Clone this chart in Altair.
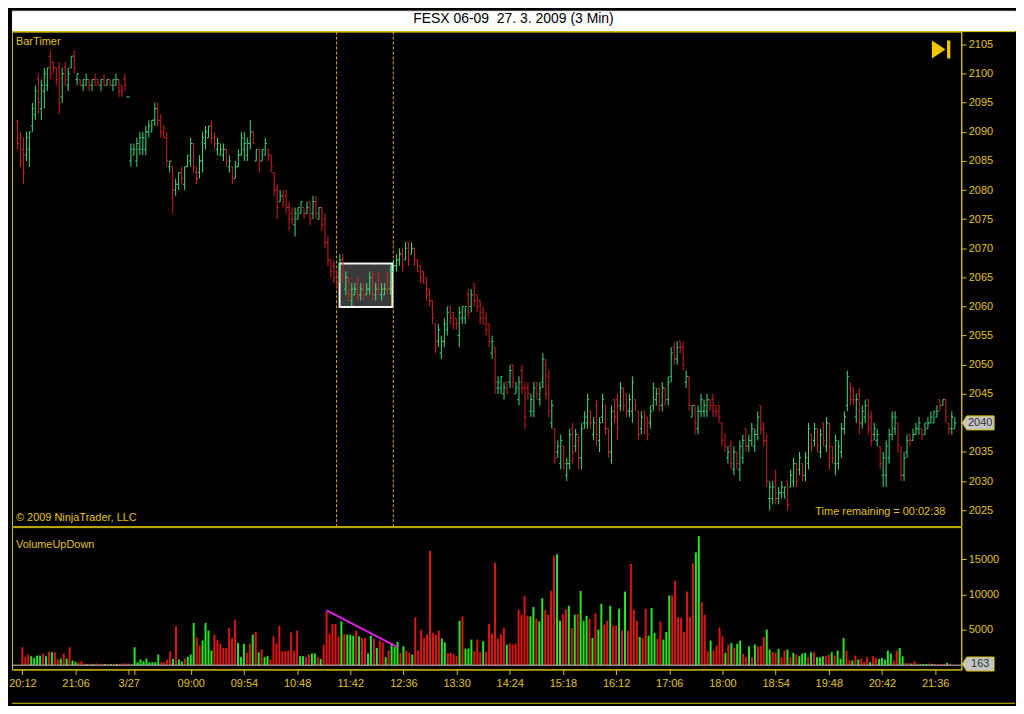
import altair as alt
import pandas as pd

TITLE = "FESX 06-09\u00a0 27. 3. 2009 (3 Min)"

HIGH = [
    2092, 2090, 2089, 2090, 2090, 2095, 2098, 2100, 2099, 2101,
    2101, 2104, 2102, 2101, 2102, 2101, 2102, 2101, 2103, 2104,
    2100, 2099, 2099, 2100, 2099, 2099, 2100, 2099, 2099, 2100,
    2099, 2099, 2099, 2100, 2099, 2098, 2100, 2096, 2088, 2088,
    2089, 2090, 2090, 2091, 2092, 2092, 2095, 2095, 2093, 2091,
    2090, 2085, 2084, 2082, 2083, 2084, 2084, 2086, 2089, 2088,
    2084, 2086, 2090, 2091, 2091, 2092, 2090, 2089, 2088, 2088,
    2087, 2086, 2084, 2085, 2087, 2090, 2090, 2089, 2092, 2090,
    2087, 2087, 2087, 2089, 2087, 2086, 2083, 2081, 2080, 2080,
    2080, 2078, 2077, 2077, 2077, 2078, 2077, 2078, 2078, 2079,
    2079, 2077, 2077, 2076, 2072, 2068, 2068, 2066, 2069, 2069,
    2066, 2065, 2064, 2064, 2065, 2064, 2064, 2064, 2066, 2066,
    2064, 2066, 2064, 2064, 2066, 2067, 2068, 2069, 2070, 2070,
    2071, 2071, 2071, 2070, 2068, 2067, 2066, 2065, 2063, 2061,
    2057, 2057, 2055, 2058, 2060, 2060, 2059, 2058, 2060, 2060,
    2060, 2063, 2063, 2064, 2062, 2061, 2060, 2059, 2057, 2055,
    2053, 2048, 2048, 2047, 2047, 2050, 2050, 2047, 2048, 2050,
    2047, 2047, 2045, 2047, 2047, 2047, 2052, 2051, 2049, 2044,
    2039, 2037, 2038, 2036, 2034, 2039, 2040, 2039, 2038, 2040,
    2042, 2045, 2042, 2041, 2044, 2041, 2045, 2043, 2039, 2043,
    2044, 2045, 2047, 2046, 2045, 2045, 2048, 2044, 2042, 2042,
    2042, 2041, 2043, 2047, 2046, 2046, 2047, 2046, 2048, 2053,
    2054, 2054, 2054, 2054, 2049, 2048, 2043, 2043, 2043, 2045,
    2044, 2045, 2044, 2045, 2043, 2043, 2040, 2038, 2036, 2037,
    2036, 2035, 2037, 2038, 2039, 2038, 2040, 2039, 2042, 2043,
    2040, 2038, 2030, 2030, 2032, 2029, 2030, 2029, 2030, 2032,
    2034, 2033, 2035, 2033, 2035, 2040, 2038, 2040, 2039, 2039,
    2040, 2041, 2040, 2036, 2038, 2037, 2040, 2042, 2049, 2047,
    2046, 2045, 2046, 2043, 2044, 2044, 2042, 2040, 2039, 2036,
    2035, 2037, 2039, 2042, 2042, 2040, 2036, 2035, 2038, 2038,
    2039, 2040, 2041, 2039, 2040, 2041, 2042, 2042, 2043, 2044,
    2044, 2044, 2040, 2042, 2041,
]

LOW = [
    2087, 2084, 2081, 2085, 2084, 2090, 2092, 2093, 2092, 2094,
    2097, 2099, 2100, 2098, 2093, 2095, 2098, 2097, 2101, 2100,
    2098, 2098, 2097, 2098, 2097, 2097, 2098, 2098, 2097, 2098,
    2098, 2098, 2097, 2098, 2096, 2096, 2097, 2096, 2084, 2086,
    2084, 2086, 2086, 2086, 2089, 2090, 2091, 2091, 2089, 2089,
    2084, 2083, 2076, 2079, 2080, 2081, 2080, 2084, 2084, 2083,
    2081, 2082, 2083, 2087, 2089, 2088, 2087, 2086, 2086, 2085,
    2084, 2083, 2081, 2082, 2084, 2086, 2085, 2085, 2087, 2088,
    2085, 2083, 2085, 2086, 2085, 2083, 2079, 2075, 2078, 2077,
    2076, 2073, 2074, 2072, 2075, 2076, 2075, 2076, 2074, 2075,
    2075, 2075, 2073, 2070, 2067, 2065, 2064, 2063, 2064, 2064,
    2062, 2061, 2060, 2062, 2061, 2061, 2061, 2062, 2062, 2061,
    2061, 2062, 2061, 2062, 2062, 2062, 2066, 2066, 2067, 2066,
    2068, 2067, 2069, 2067, 2066, 2064, 2064, 2061, 2060, 2057,
    2052, 2053, 2051, 2053, 2055, 2057, 2056, 2056, 2053, 2057,
    2057, 2058, 2059, 2060, 2059, 2057, 2057, 2055, 2053, 2051,
    2045, 2045, 2045, 2044, 2045, 2046, 2046, 2045, 2043, 2045,
    2039, 2044, 2041, 2041, 2044, 2043, 2046, 2044, 2041, 2039,
    2033, 2034, 2032, 2032, 2030, 2032, 2033, 2035, 2032, 2032,
    2039, 2039, 2039, 2037, 2036, 2035, 2040, 2038, 2034, 2033,
    2040, 2037, 2042, 2042, 2041, 2041, 2040, 2042, 2037, 2038,
    2038, 2037, 2039, 2042, 2043, 2042, 2042, 2043, 2043, 2047,
    2050, 2050, 2052, 2049, 2046, 2042, 2041, 2038, 2038, 2041,
    2041, 2041, 2042, 2041, 2041, 2040, 2036, 2035, 2033, 2032,
    2031, 2032, 2030, 2033, 2035, 2035, 2036, 2035, 2037, 2038,
    2036, 2029, 2025, 2026, 2026, 2026, 2027, 2027, 2025, 2029,
    2029, 2029, 2031, 2030, 2030, 2032, 2035, 2036, 2035, 2034,
    2036, 2035, 2032, 2033, 2031, 2032, 2034, 2038, 2042, 2043,
    2043, 2040, 2038, 2039, 2040, 2038, 2036, 2037, 2036, 2032,
    2029, 2029, 2033, 2037, 2038, 2035, 2030, 2030, 2034, 2036,
    2037, 2038, 2038, 2037, 2038, 2039, 2040, 2040, 2041, 2042,
    2043, 2040, 2038, 2038, 2039,
]

OPEN = [
    2092, 2089, 2087, 2086, 2087, 2091, 2093, 2099, 2094, 2097,
    2098, 2103, 2102, 2101, 2101, 2096, 2101, 2098, 2101, 2103,
    2099, 2099, 2098, 2098, 2099, 2098, 2099, 2099, 2098, 2099,
    2098, 2099, 2098, 2098, 2099, 2098, 2099, 2096, 2085, 2086,
    2085, 2087, 2087, 2087, 2090, 2090, 2092, 2094, 2092, 2091,
    2089, 2084, 2084, 2080, 2081, 2083, 2081, 2084, 2085, 2088,
    2083, 2083, 2085, 2088, 2089, 2091, 2089, 2087, 2086, 2086,
    2087, 2084, 2084, 2082, 2084, 2086, 2087, 2086, 2088, 2090,
    2085, 2087, 2085, 2086, 2087, 2086, 2083, 2080, 2078, 2079,
    2079, 2077, 2076, 2074, 2075, 2076, 2077, 2076, 2078, 2076,
    2078, 2075, 2077, 2075, 2071, 2068, 2067, 2066, 2065, 2068,
    2063, 2065, 2061, 2062, 2064, 2062, 2063, 2062, 2063, 2065,
    2062, 2065, 2062, 2062, 2065, 2063, 2066, 2067, 2068, 2069,
    2068, 2071, 2069, 2070, 2068, 2067, 2066, 2065, 2063, 2061,
    2057, 2054, 2052, 2054, 2056, 2060, 2059, 2058, 2055, 2058,
    2058, 2062, 2060, 2064, 2062, 2061, 2059, 2058, 2057, 2052,
    2053, 2046, 2046, 2045, 2047, 2047, 2050, 2045, 2044, 2049,
    2046, 2046, 2042, 2042, 2047, 2044, 2047, 2050, 2048, 2040,
    2039, 2035, 2033, 2036, 2031, 2033, 2039, 2036, 2037, 2034,
    2040, 2040, 2042, 2038, 2043, 2037, 2041, 2043, 2039, 2035,
    2044, 2044, 2043, 2046, 2045, 2042, 2042, 2044, 2042, 2039,
    2042, 2041, 2040, 2043, 2044, 2046, 2043, 2046, 2044, 2048,
    2053, 2051, 2054, 2053, 2047, 2048, 2041, 2043, 2039, 2042,
    2042, 2042, 2044, 2044, 2043, 2043, 2040, 2038, 2034, 2036,
    2032, 2035, 2032, 2034, 2039, 2036, 2037, 2036, 2038, 2043,
    2040, 2037, 2027, 2027, 2030, 2027, 2028, 2028, 2030, 2029,
    2030, 2033, 2032, 2033, 2031, 2033, 2038, 2037, 2039, 2035,
    2040, 2036, 2040, 2036, 2033, 2033, 2035, 2039, 2043, 2046,
    2046, 2041, 2045, 2040, 2041, 2044, 2041, 2038, 2037, 2036,
    2031, 2031, 2034, 2038, 2039, 2040, 2035, 2031, 2035, 2038,
    2037, 2038, 2039, 2039, 2038, 2039, 2040, 2040, 2041, 2044,
    2043, 2044, 2040, 2039, 2039,
]

CLOSE = [
    2088, 2085, 2083, 2089, 2090, 2094, 2097, 2095, 2098, 2100,
    2101, 2100, 2101, 2099, 2095, 2100, 2099, 2100, 2103, 2101,
    2100, 2098, 2099, 2099, 2098, 2099, 2098, 2098, 2099, 2098,
    2099, 2098, 2099, 2099, 2097, 2097, 2098, 2096, 2087, 2087,
    2088, 2089, 2089, 2090, 2091, 2092, 2094, 2092, 2090, 2089,
    2085, 2085, 2080, 2081, 2083, 2082, 2084, 2086, 2088, 2084,
    2082, 2085, 2089, 2090, 2091, 2089, 2088, 2088, 2087, 2087,
    2085, 2085, 2082, 2084, 2086, 2089, 2088, 2088, 2090, 2088,
    2087, 2085, 2087, 2088, 2086, 2084, 2080, 2077, 2079, 2078,
    2077, 2075, 2075, 2076, 2077, 2078, 2076, 2077, 2075, 2078,
    2076, 2077, 2074, 2071, 2068, 2066, 2065, 2064, 2068, 2065,
    2065, 2062, 2063, 2063, 2062, 2063, 2062, 2063, 2065, 2062,
    2063, 2063, 2063, 2063, 2063, 2066, 2067, 2068, 2069, 2067,
    2070, 2068, 2070, 2068, 2066, 2065, 2064, 2062, 2061, 2058,
    2053, 2056, 2054, 2057, 2059, 2058, 2057, 2057, 2059, 2060,
    2060, 2059, 2062, 2061, 2060, 2058, 2057, 2056, 2054, 2054,
    2047, 2047, 2048, 2046, 2045, 2049, 2047, 2046, 2047, 2046,
    2041, 2045, 2044, 2046, 2045, 2046, 2051, 2045, 2042, 2043,
    2034, 2036, 2037, 2033, 2033, 2038, 2035, 2038, 2034, 2039,
    2041, 2044, 2040, 2040, 2038, 2040, 2044, 2039, 2035, 2042,
    2041, 2039, 2046, 2043, 2042, 2044, 2047, 2043, 2038, 2041,
    2040, 2038, 2042, 2046, 2045, 2043, 2046, 2044, 2047, 2052,
    2051, 2053, 2053, 2050, 2048, 2043, 2043, 2040, 2042, 2044,
    2043, 2044, 2043, 2042, 2042, 2041, 2037, 2036, 2035, 2033,
    2035, 2033, 2036, 2037, 2036, 2037, 2039, 2038, 2041, 2039,
    2037, 2030, 2029, 2029, 2027, 2028, 2029, 2029, 2026, 2031,
    2033, 2030, 2034, 2031, 2034, 2039, 2036, 2039, 2036, 2038,
    2037, 2040, 2034, 2034, 2037, 2036, 2039, 2041, 2048, 2044,
    2044, 2044, 2040, 2042, 2043, 2039, 2037, 2039, 2038, 2033,
    2034, 2036, 2038, 2041, 2041, 2036, 2031, 2034, 2037, 2037,
    2038, 2039, 2040, 2038, 2040, 2040, 2041, 2042, 2042, 2043,
    2044, 2041, 2039, 2041, 2040,
]

VOLUME = [
    2540, 1130, 1500, 1270, 1030, 1360, 1360, 1650, 1270, 1930,
    1830, 1830, 800, 940, 1650, 940, 2540, 660, 470, 380,
    560, 230, 140, 200, 150, 250, 180, 200, 150, 180,
    150, 200, 180, 150, 230, 250, 230, 100, 2540, 420,
    800, 560, 940, 420, 420, 420, 1500, 420, 420, 800,
    1970, 890, 5500, 800, 520, 940, 1170, 1500, 5970, 3950,
    2770, 3480, 5970, 4890, 2070, 4320, 3520, 3050, 2440, 2440,
    5260, 3850, 6430, 3150, 1130, 3010, 1740, 3050, 4320, 4700,
    1830, 2210, 1130, 1270, 800, 4090, 3050, 5590, 1970, 1970,
    2070, 4650, 2070, 4890, 1270, 1270, 1130, 1500, 1650, 1650,
    1130, 890, 2910, 7610, 4420, 5830, 5830, 4090, 6200, 4420,
    4320, 4320, 4180, 4890, 4090, 3850, 3850, 1650, 4180, 3760,
    2440, 3480, 3240, 1130, 2070, 3150, 2540, 3290, 1740, 2680,
    2070, 1740, 1500, 6760, 2070, 5030, 3850, 4320, 16200, 4560,
    4320, 4890, 3760, 3240, 1740, 1740, 1600, 1270, 6290, 6900,
    2350, 2350, 3620, 1970, 3620, 1830, 3380, 1880, 5870, 4460,
    14500, 3760, 4420, 5260, 2910, 3050, 2910, 3050, 7840, 7140,
    9810, 7000, 6900, 8220, 6570, 6200, 9480, 7840, 7140, 10500,
    15400, 15700, 6290, 7230, 7930, 8400, 5260, 7140, 7230, 10500,
    6290, 7000, 6570, 3850, 7370, 5030, 8690, 5730, 6290, 8400,
    5590, 5590, 7980, 4890, 10420, 4890, 14320, 7840, 6290, 3990,
    3850, 7980, 4180, 8080, 4560, 3760, 6200, 3620, 4700, 9860,
    9860, 11970, 6810, 6670, 4700, 10420, 6810, 14410, 15960, 18260,
    8920, 7140, 1970, 3480, 2070, 2770, 5350, 4090, 1740, 2910,
    3150, 2440, 3010, 3480, 1650, 1130, 2680, 1130, 2910, 2680,
    2680, 3990, 5030, 2210, 1880, 1740, 2300, 1130, 2070, 2210,
    1130, 1740, 1500, 1270, 1650, 1740, 1130, 1830, 1830, 1130,
    1130, 1270, 1270, 1500, 1830, 1360, 2070, 940, 3850, 2070,
    700, 660, 1360, 800, 940, 470, 1130, 420, 1270, 1030,
    890, 1030, 800, 2070, 1650, 660, 2070, 2440, 1270, 330,
    330, 230, 560, 230, 140, 140, 140, 230, 140, 140,
    140, 140, 140, 330, 163,
]

VOL_DIR = list(
    "DDDUUUUDUD" "UDDUDUDUUD" "DDUDUDDDUD" "UDUDDDDUUU" "UUUUUUUDDD"
    "DUDUUDUUUD" "DUUUUDDDDD" "DDDUUUDDUD" "UDUUDDDDDD" "DDDDUUDDUU"
    "DUDDDDDDUD" "UUUDUDDUUD" "UDDUDUUUDU" "DDUDDDDDDD" "DDUUDDDDUD"
    "UUUDDDUDDD" "DDDDUDDDDD" "DDUUDUUDDD" "DUUDDUDUDU" "UUDUDUUDDU"
    "DDUDUDDDDU" "DDUUUDDUUU" "DDDDDDDDUU" "DDDUDDDDUD" "UDUUDDUDUD"
    "DDUUDDUDDU" "DUDUUUDUDU" "UUDDUDUUUD" "DUDUDDDUDD" "UUUUUDDUUD"
    "DUDDUUUDUD" "DDDUD"
)

TICK_POS = [0, 18, 36, 38, 57, 75, 93, 111, 129, 147, 165, 183, 201, 219, 237, 255, 273, 291, 309]
TICK_LAB = ["20:12", "21:06", "3/27", "", "09:00", "09:54", "10:48", "11:42", "12:36", "13:30",
            "14:24", "15:18", "16:12", "17:06", "18:00", "18:54", "19:48", "20:42", "21:36"]
PRICE_TICKS = [2025, 2030, 2035, 2040, 2045, 2050, 2055, 2060, 2065, 2070,
               2075, 2080, 2085, 2090, 2095, 2100, 2105]
VOL_TICKS = [5000, 10000, 15000]

SESSION_MARKS = [106.9, 125.9]
BOX_I = [107.9, 125.6]
BOX_P = [2059.9, 2067.4]
TREND_I = [103, 127]
TREND_V = [7750, 2540]

FONT = "Liberation Sans"
GOLD = "#e3c21a"
BORDER = "#d8bf00"
UP_P = "#3bdc7c"
DN_P = "#d42020"
UP_V = "#22e622"
DN_V = "#e01414"

W = 954
HP = 497
HV = 143
TOTAL_W = 1008

N = len(HIGH)
bars = pd.DataFrame({
    "i": list(range(N)), "h": HIGH, "l": LOW, "o": OPEN, "c": CLOSE,
    "v": VOLUME, "d": VOL_DIR,
})

xs = alt.Scale(domain=[-1.8333, 316.1667], nice=False, zero=False)
ps = alt.Scale(domain=[2022.26, 2107.22], nice=False, zero=False)
vs = alt.Scale(domain=[-606, 19535], nice=False, zero=False)

price_axis = alt.Axis(orient="right", values=PRICE_TICKS, format="d", title=None, grid=False,
                      domainColor=BORDER, tickColor=BORDER, labelColor=GOLD, tickSize=5,
                      labelPadding=2, labelFont=FONT, labelFontSize=11)
vol_axis = alt.Axis(orient="right", values=VOL_TICKS, format="d", title=None, grid=False,
                    domainColor=BORDER, tickColor=BORDER, labelColor=GOLD, tickSize=5,
                    labelPadding=2, labelFont=FONT, labelFontSize=11)
lab_expr = " : ".join(f"datum.value == {v} ? '{l}'" for v, l in zip(TICK_POS, TICK_LAB)) + " : ''"
x_axis = alt.Axis(values=TICK_POS, labelExpr=lab_expr, title=None, grid=False,
                  domainColor=BORDER, tickColor=BORDER, labelColor=GOLD, tickSize=5,
                  labelPadding=3, labelFont=FONT, labelFontSize=11, labelFlush=8,
                  labelOverlap=False)

# ---------------- title band ----------------
title_chart = alt.Chart(pd.DataFrame({"t": [TITLE]})).mark_text(
    font=FONT, fontSize=14, color="black", align="center", baseline="middle"
).encode(x=alt.value(TOTAL_W / 2), y=alt.value(8), text="t:N").properties(
    width=TOTAL_W, height=20, view=alt.ViewBackground(fill="white", stroke="white")
)

# ---------------- price panel ----------------
pbase = alt.Chart(bars).transform_calculate(
    pc=f"datum.c >= datum.o ? '{UP_P}' : '{DN_P}'",
    xo="datum.i - 0.55", xc="datum.i + 0.55",
)
pcolor = alt.Color("pc:N", scale=None)

box = alt.Chart(pd.DataFrame({"x1": [BOX_I[0]], "x2": [BOX_I[1]], "p1": [BOX_P[0]], "p2": [BOX_P[1]]})).mark_rect(
    fill="#3a3a3a", stroke="#f4f4f4", strokeWidth=2
).encode(x=alt.X("x1:Q", scale=xs, axis=None), x2="x2:Q",
         y=alt.Y("p1:Q", scale=ps, axis=price_axis), y2="p2:Q")

sess = alt.Chart(pd.DataFrame({"x": SESSION_MARKS})).mark_rule(
    color="#e8a800", strokeDash=[3, 2], strokeWidth=1
).encode(x=alt.X("x:Q", scale=xs, axis=None))

hl = pbase.mark_rule(strokeWidth=1).encode(
    x=alt.X("i:Q", scale=xs, axis=None),
    y=alt.Y("l:Q", scale=ps, axis=price_axis), y2="h:Q", color=pcolor)
otick = pbase.mark_rule(strokeWidth=1).encode(
    x=alt.X("xo:Q", scale=xs, axis=None), x2="i:Q",
    y=alt.Y("o:Q", scale=ps, axis=price_axis), color=pcolor)
ctick = pbase.mark_rule(strokeWidth=1).encode(
    x=alt.X("i:Q", scale=xs, axis=None), x2="xc:Q",
    y=alt.Y("c:Q", scale=ps, axis=price_axis), color=pcolor)

t1 = alt.Chart(pd.DataFrame({"t": ["BarTimer"]})).mark_text(
    font=FONT, fontSize=11, color=GOLD, align="left", baseline="middle"
).encode(x=alt.value(4), y=alt.value(10), text="t:N")
t2 = alt.Chart(pd.DataFrame({"t": ["\u00a9 2009 NinjaTrader, LLC"]})).mark_text(
    font=FONT, fontSize=11, color=GOLD, align="left", baseline="middle"
).encode(x=alt.value(4), y=alt.value(489), text="t:N")
t3 = alt.Chart(pd.DataFrame({"t": ["Time remaining = 00:02:38"]})).mark_text(
    font=FONT, fontSize=11, color=GOLD, align="right", baseline="middle"
).encode(x=alt.value(938), y=alt.value(483), text="t:N")

MARKER_PATH = "M-1,0 L-0.72,-0.44 L1,-0.44 L1,0.44 L-0.72,0.44 Z"
last = pd.DataFrame({"p": [CLOSE[-1]], "t": [str(CLOSE[-1])]})
pmark = alt.Chart(last).mark_point(
    shape=MARKER_PATH, size=1024, filled=True, fill="#c4c4c4", stroke=BORDER,
    strokeWidth=1, opacity=1
).encode(x=alt.value(W + 17), y=alt.Y("p:Q", scale=ps, axis=price_axis))
ptxt = alt.Chart(last).mark_text(
    font=FONT, fontSize=11, color="#303030", align="center", baseline="middle"
).encode(x=alt.value(W + 19), y=alt.Y("p:Q", scale=ps, axis=price_axis), text="t:N")

PLAY_PATH = "M-1,-0.95 L0.45,0 L-1,0.95 Z M0.6,-0.95 L0.95,-0.95 L0.95,0.95 L0.6,0.95 Z"
play = alt.Chart(pd.DataFrame({"k": [0]})).mark_point(
    shape=PLAY_PATH, size=361, filled=True, color="#f5c400", opacity=1
).encode(x=alt.value(934), y=alt.value(18))

toprule = alt.Chart(pd.DataFrame({"k": [0]})).mark_rule(color=BORDER, strokeWidth=1).encode(
    x=alt.value(0), x2=alt.value(TOTAL_W), y=alt.value(0))

price = alt.layer(box, sess, hl, otick, ctick, t1, t2, t3, pmark, ptxt, play, toprule).properties(
    width=W, height=HP)

# ---------------- volume panel ----------------
vbase = alt.Chart(bars).transform_calculate(
    vc=f"datum.d == 'U' ? '{UP_V}' : '{DN_V}'")
vbars = vbase.mark_bar(size=2).encode(
    x=alt.X("i:Q", scale=xs, axis=x_axis),
    y=alt.Y("v:Q", scale=vs, axis=vol_axis), y2=alt.datum(0),
    color=alt.Color("vc:N", scale=None))

baseline = alt.Chart(pd.DataFrame({"z": [0]})).mark_rule(color="#c8c8c8", strokeWidth=1).encode(
    y=alt.Y("z:Q", scale=vs, axis=vol_axis))

trend = alt.Chart(pd.DataFrame({"i": TREND_I, "v": TREND_V})).mark_line(
    color="#e020e0", strokeWidth=2
).encode(x=alt.X("i:Q", scale=xs, axis=x_axis), y=alt.Y("v:Q", scale=vs, axis=vol_axis))

vtext = alt.Chart(pd.DataFrame({"t": ["VolumeUpDown"]})).mark_text(
    font=FONT, fontSize=11, color=GOLD, align="left", baseline="middle"
).encode(x=alt.value(4), y=alt.value(18), text="t:N")

lastv = pd.DataFrame({"v": [VOLUME[-1]], "t": [str(VOLUME[-1])]})
vmark = alt.Chart(lastv).mark_point(
    shape=MARKER_PATH, size=1024, filled=True, fill="#c4c4c4", stroke=BORDER,
    strokeWidth=1, opacity=1
).encode(x=alt.value(W + 17), y=alt.Y("v:Q", scale=vs, axis=vol_axis))
vmtxt = alt.Chart(lastv).mark_text(
    font=FONT, fontSize=11, color="#303030", align="center", baseline="middle"
).encode(x=alt.value(W + 19), y=alt.Y("v:Q", scale=vs, axis=vol_axis), text="t:N")

botrule = alt.Chart(pd.DataFrame({"k": [0]})).mark_rule(color=BORDER, strokeWidth=1).encode(
    x=alt.value(0), x2=alt.value(TOTAL_W), y=alt.value(177))

volume = alt.layer(vbars, baseline, trend, vtext, vmark, vmtxt, botrule).properties(
    width=W, height=HV)

chart = alt.vconcat(title_chart, price, volume, spacing=1, bounds="flush").properties(
    background="black", padding=0
).configure_view(stroke=BORDER, fill="black", strokeWidth=1)

chart.save("out.html", embed_options={"renderer": "svg", "actions": False})
